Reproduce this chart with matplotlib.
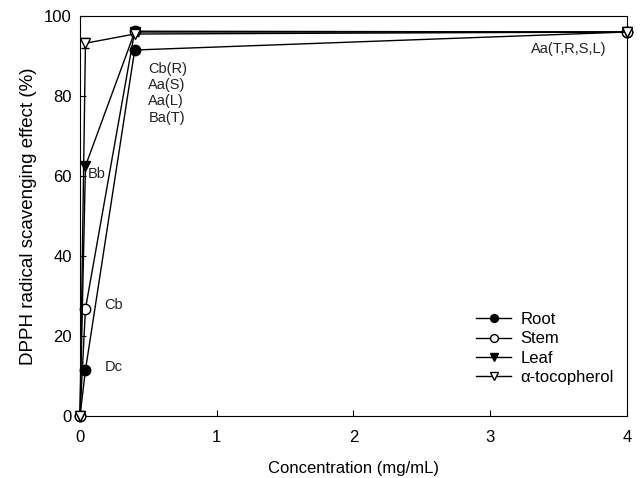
import matplotlib
matplotlib.use("Agg")
import matplotlib.pyplot as plt

plt.rcParams['font.family'] = ['Liberation Sans', 'DejaVu Sans']

conc = [0, 0.04, 0.4, 4]
root = [0, 11.5, 91.5, 96]
stem = [0, 26.8, 96.2, 96]
leaf = [0, 62.5, 96, 96]
toco = [0, 93.2, 95.5, 96]
toco_err = [0, 1.2, 0.5, 0.3]

labels_series = ["Root", "Stem", "Leaf", "\u03b1-tocopherol"]

fig = plt.figure(figsize=(6.43, 4.78), dpi=100)
ax = fig.add_axes([0.1244, 0.1297, 0.8506, 0.8368])

lw = 1.0
ms = 7.5
ax.errorbar(conc, toco, yerr=toco_err, fmt='none', ecolor='black', capsize=3, elinewidth=lw, clip_on=False)
ax.plot(conc, root, '-', color='black', lw=lw, marker='o', ms=ms, mfc='black', mec='black', label=labels_series[0], clip_on=False, zorder=3)
ax.plot(conc, stem, '-', color='black', lw=lw, marker='o', ms=ms, mfc='white', mec='black', label=labels_series[1], clip_on=False, zorder=3)
ax.plot(conc, leaf, '-', color='black', lw=lw, marker='v', ms=ms, mfc='black', mec='black', label=labels_series[2], clip_on=False, zorder=3)
ax.plot(conc, toco, '-', color='black', lw=lw, marker='v', ms=ms, mfc='white', mec='black', label=labels_series[3], clip_on=False, zorder=3)

ax.set_xlim(0, 4)
ax.set_ylim(0, 100)
ax.set_xticks([0, 1, 2, 3, 4])
ax.set_yticks([0, 20, 40, 60, 80, 100])
ax.tick_params(direction='in', length=4, labelsize=12)
ax.tick_params(axis='x', pad=10)
ax.tick_params(axis='y', pad=6)
ax.set_xlabel("Concentration (mg/mL)", fontsize=12, labelpad=11.5)
ax.set_ylabel("DPPH radical scavenging effect (%)", fontsize=13.5, labelpad=5)

fs = 10.5
tc = '#222222'
ax.text(0.18, 12.2, "Dc", fontsize=fs, ha='left', va='center', color=tc)
ax.text(0.18, 27.7, "Cb", fontsize=fs, ha='left', va='center', color=tc)
ax.text(0.06, 60.5, "Bb", fontsize=fs, ha='left', va='center', color=tc)
ax.text(0.5, 88.5, "Cb(R)\nAa(S)\nAa(L)\nBa(T)", fontsize=fs, ha='left', va='top', color=tc, linespacing=1.2)
ax.text(3.85, 93.5, "Aa(T,R,S,L)", fontsize=fs, ha='right', va='top', color=tc)

leg = ax.legend(loc='lower right', bbox_to_anchor=(1.0, 0.045), frameon=False, fontsize=12,
                handlelength=2.1, labelspacing=0.25, handletextpad=0.55, borderpad=0.3, markerscale=0.75)

fig.savefig("out.png", dpi=100)
